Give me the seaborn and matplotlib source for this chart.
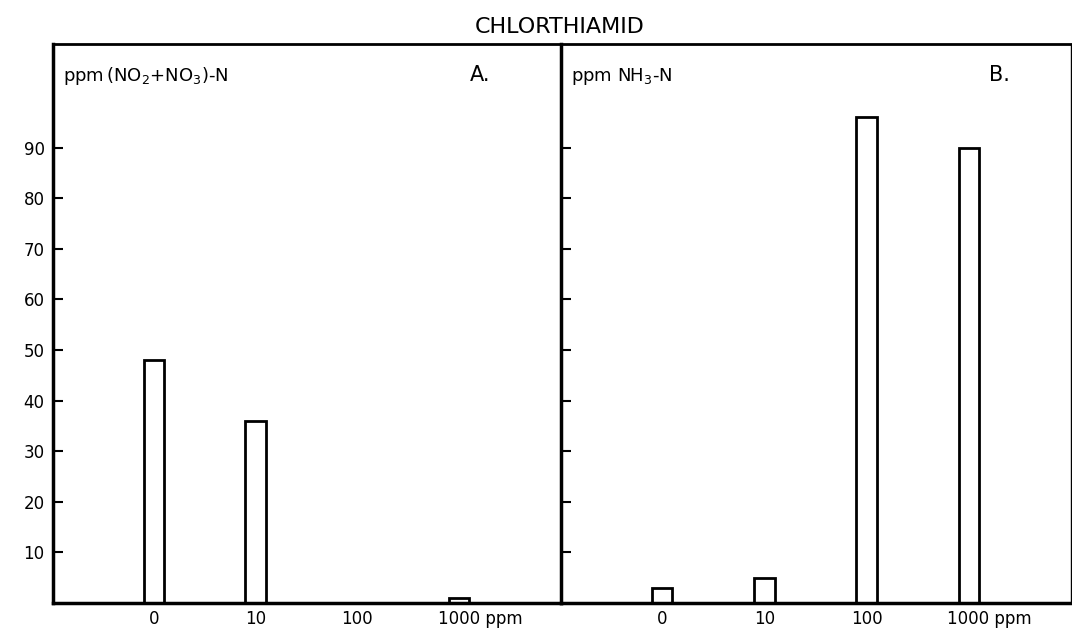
import matplotlib
matplotlib.use("Agg")
import matplotlib.pyplot as plt
import matplotlib.transforms as mtransforms
import seaborn as sns
import pandas as pd

# dose of chlorthiamid (ppm) and measured N (ppm)
doses = ["0", "10", "100", "1000"]
dose_labels = ["0", "10", "100", "1000 ppm"]
nitrate_n = [48, 36, 0, 1]      # panel A: ppm (NO2+NO3)-N
ammonia_n = [3, 5, 96, 90]      # panel B: ppm NH3-N
y_ticks = [10, 20, 30, 40, 50, 60, 70, 80, 90]

sns.set_style("white")
plt.rcParams['font.family'] = ['DejaVu Sans']
plt.rcParams['text.color'] = 'black'
plt.rcParams['xtick.color'] = 'black'
plt.rcParams['ytick.color'] = 'black'

fig = plt.figure(figsize=(10.72, 6.33), dpi=100)
ax_a = fig.add_axes([0.0494, 0.0474, 0.4739, 0.8831])
ax_b = fig.add_axes([0.5233, 0.0474, 0.4758, 0.8831])


def panel(ax, values, label, letter, letter_x, show_ylabels):
    df = pd.DataFrame({"dose": doses, "value": values})
    sns.barplot(data=df, x="dose", y="value", order=doses, ax=ax,
                width=0.2, color="white", edgecolor="black", linewidth=2,
                saturation=1)
    ax.set_xlim(-0.99, 4.0)
    ax.set_ylim(0, 110.5)
    ax.set_xlabel("")
    ax.set_ylabel("")
    ax.set_yticks(y_ticks)
    if show_ylabels:
        ax.set_yticklabels([str(t) for t in y_ticks], fontsize=12)
    else:
        ax.set_yticklabels([])
    ax.tick_params(axis="y", direction="in", length=7, width=1.5, left=True, pad=6)
    ax.tick_params(axis="x", length=0, pad=5, labelsize=12)
    ax.set_xticks(range(len(doses)))
    ax.set_xticklabels(dose_labels)
    # "1000 ppm": keep the number centred under its bar
    last = ax.get_xticklabels()[-1]
    last.set_horizontalalignment("left")
    last.set_transform(last.get_transform() + mtransforms.ScaledTranslation(
        -15.5 / 72, 0, fig.dpi_scale_trans))
    ax.text(0.02, 0.942, label, transform=ax.transAxes, fontsize=13,
            ha="left", va="center")
    ax.text(letter_x, 0.945, letter, transform=ax.transAxes, fontsize=15,
            ha="left", va="center")
    ax.spines["left"].set_linewidth(2.5)
    ax.spines["bottom"].set_linewidth(2.5)
    ax.spines["top"].set_linewidth(2)
    for s in ax.spines.values():
        s.set_color("black")


panel(ax_a, nitrate_n, r"ppm$\,$(NO$_2$+NO$_3$)-N", "A.", 0.82, True)
panel(ax_b, ammonia_n, r"ppm NH$_3$-N", "B.", 0.84, False)
ax_a.spines["right"].set_visible(False)
ax_b.spines["right"].set_linewidth(1)

fig.text(0.522, 0.957, "CHLORTHIAMID", ha="center", va="center", fontsize=16)

fig.savefig("out.png", dpi=100, facecolor="white")
